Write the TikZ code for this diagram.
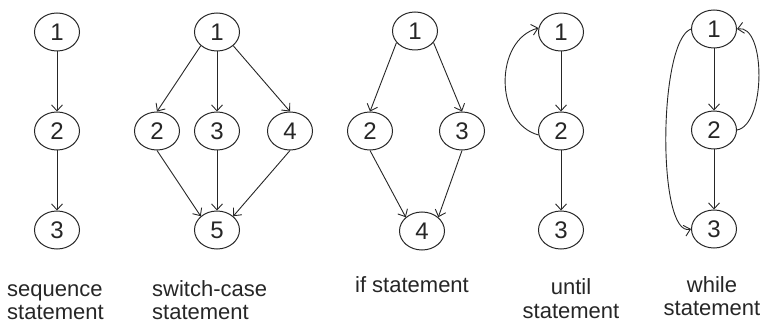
\documentclass[tikz,border=0pt]{standalone}
\usepackage{fontspec}
\setmainfont{Liberation Sans}
\usetikzlibrary{shapes.geometric,arrows.meta}
\definecolor{ink}{HTML}{262626}
\tikzset{vertex/.style={ellipse, draw=ink, line width=1pt, minimum width=45pt,
      minimum height=38pt, inner sep=0pt, text=ink, font=\fontsize{24}{24}\selectfont}}
\tikzset{flow/.style={draw=ink, line width=0.9pt,
      -{Straight Barb[length=6pt,width=11pt]}}}
\tikzset{caption/.style={inner sep=0pt, text=ink, align=left,
      font=\fontsize{22}{23}\selectfont}}

\begin{document}
\begin{tikzpicture}[x=1pt,y=1pt]
    \useasboundingbox (0,0) rectangle (760,324);
    % sequence
    \node[vertex] (a1) at (57,292) {1};
    \node[vertex] (a2) at (57,193) {2};
    \node[vertex] (a3) at (57,94) {3};
    \draw[flow] (a1) -- (a2);
    \draw[flow] (a2) -- (a3);
    \node[caption, anchor=base west] (atext) at (7,5) {sequence\\statement};

    % switch-case
    \node[vertex] (b1) at (217,292) {1};
    \node[vertex] (b2) at (157,193) {2};
    \node[vertex] (b3) at (217,193) {3};
    \node[vertex] (b4) at (290,193) {4};
    \node[vertex] (b5) at (217,94) {5};
    \draw[flow] (b1.south west) -- (b2.north);
    \draw[flow] (b1) -- (b3);
    \draw[flow] (b1.south east) -- (b4.north);
    \draw[flow] (b2.south) -- (b5.north west);
    \draw[flow] (b3) -- (b5);
    \draw[flow] (b4.south) -- (b5.north east);
    \node[caption, anchor=base west] (btext) at (152,5) {switch-case\\statement};

    % if
    \node[vertex] (c1) at (415,293) {1};
    \node[vertex] (c2) at (370,193) {2};
    \node[vertex] (c3) at (462,193) {3};
    \node[vertex] (c4) at (422,93) {4};
    \draw[flow] (c1.212) -- (c2.north);
    \draw[flow] (c1.-32) -- (c3.north);
    \draw[flow] (c2.south) -- (c4.north west);
    \draw[flow] (c3.south) -- (c4.north east);
    \node[caption, anchor=base] (ctext) at (412,31) {if statement};

    % until
    \node[vertex] (d1) at (561,292) {1};
    \node[vertex] (d2) at (561,193) {2};
    \node[vertex] (d3) at (561,94) {3};
    \draw[flow] (d1) -- (d2);
    \draw[flow] (d2) -- (d3);
    \draw[flow] (d2.190) to[out=165,in=195,looseness=1.1] (d1.170);
    \node[caption, anchor=base, align=center] (dtext) at (571,6) {until\\statement};

    % while
    \node[vertex] (e1) at (714,295) {1};
    \node[vertex] (e2) at (714,194) {2};
    \node[vertex] (e3) at (714,95) {3};
    \draw[flow] (e1) -- (e2);
    \draw[flow] (e2) -- (e3);
    \draw[flow] (e1.west) to[out=200,in=195,looseness=0.45] (e3.west);
    \draw[flow] (e2.east) to[out=10,in=10,looseness=0.75] (e1.east);
    \node[caption, anchor=base, align=center] (etext) at (712,9) {while\\statement};
\end{tikzpicture}
\end{document}
